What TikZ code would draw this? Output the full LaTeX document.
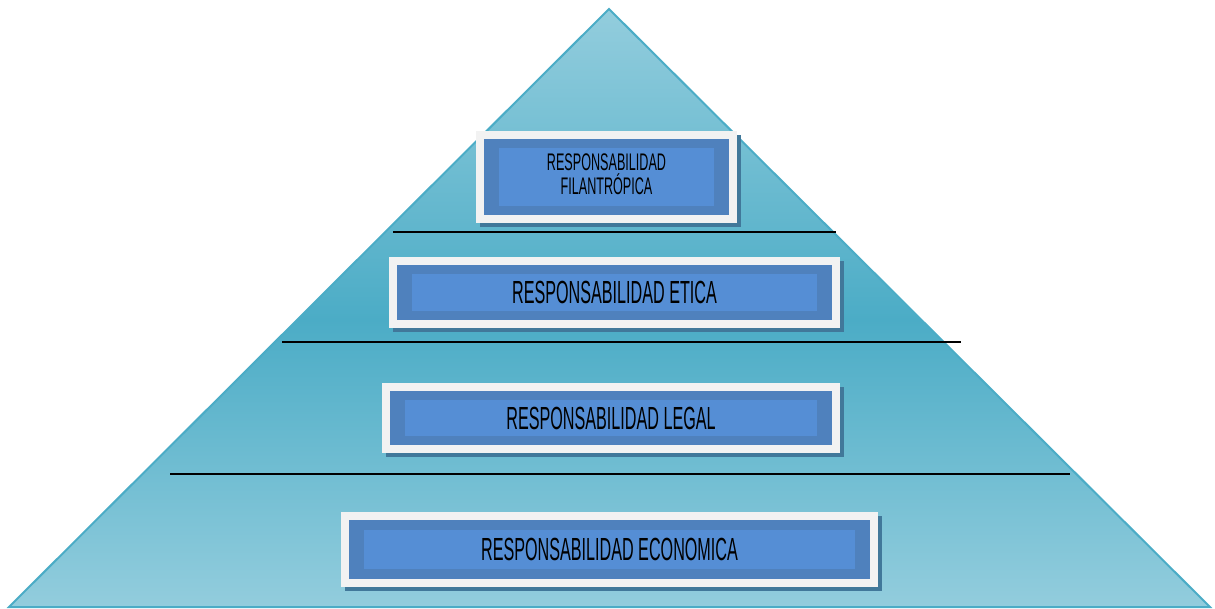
\documentclass[tikz,border=0pt]{standalone}
\usepackage{fontspec}
\setmainfont{Liberation Sans}
\usepackage{graphicx}
\definecolor{pyrlight}{HTML}{93CDDD}
\definecolor{pyrdark}{HTML}{4BACC6}
\definecolor{pyredge}{HTML}{4BACC6}
\definecolor{framewhite}{HTML}{F2F2F2}
\definecolor{darkblue}{HTML}{4F81BD}
\definecolor{lightblue}{HTML}{558ED5}
\definecolor{shadowc}{HTML}{41789A}
\newcommand{\agency}[3]{\scalebox{#2}[1]{\fontsize{#1}{#1}\selectfont #3}}
\newcommand{\tier}[9]{%
  \fill[shadowc] (#2+4,#3+4) rectangle (#4+4,#5+4);
  \fill[framewhite] (#2,#3) rectangle (#4,#5);
  \fill[darkblue] (#2+#6,#3+#6) rectangle (#4-#6,#5-#6);
  \fill[lightblue] (#2+#7,#3+#8) rectangle (#4-#7,#5-#8);
}
\begin{document}
\begin{tikzpicture}[x=1pt,y=-1pt,
  tiertext/.style={inner sep=0pt, text=black, align=center},
  sepline/.style={draw=black, line width=1.2pt}]
\useasboundingbox (0,0) rectangle (1215,609);
% pyramid with two-part vertical gradient
\begin{scope}
  \clip (609,9) -- (1210,607) -- (9,607) -- cycle;
  \shade[top color=pyrlight, bottom color=pyrdark] (0,8) rectangle (1215,320);
  \shade[top color=pyrdark, bottom color=pyrlight] (0,319.5) rectangle (1215,609);
\end{scope}
\draw[pyredge, line width=2pt, line join=miter] (609,9) -- (1210,607) -- (9,607) -- cycle;
% separator lines
\draw[sepline] (393,232) -- (836,232);
\draw[sepline] (282,342) -- (961,342);
\draw[sepline] (170,474) -- (1070,474);
% tiers
\tier{fil}{476}{131}{737}{223}{8}{23}{17}{}
\node[tiertext] (fil) at (606.5,174) {\agency{24}{0.525}{RESPONSABILIDAD}\\[2pt]\agency{24}{0.525}{FILANTRÓPICA}};
\tier{eti}{389}{257}{840}{328}{8}{23}{17}{}
\node[tiertext] (eti) at (614.5,292.5) {\agency{32}{0.505}{RESPONSABILIDAD ETICA}};
\tier{leg}{382}{383}{840}{453}{8}{23}{17}{}
\node[tiertext] (leg) at (611,418) {\agency{32}{0.505}{RESPONSABILIDAD LEGAL}};
\tier{eco}{341}{512}{878}{587}{8}{23}{18}{}
\node[tiertext] (eco) at (609.5,549.5) {\agency{32}{0.505}{RESPONSABILIDAD ECONOMICA}};
\end{tikzpicture}
\end{document}
